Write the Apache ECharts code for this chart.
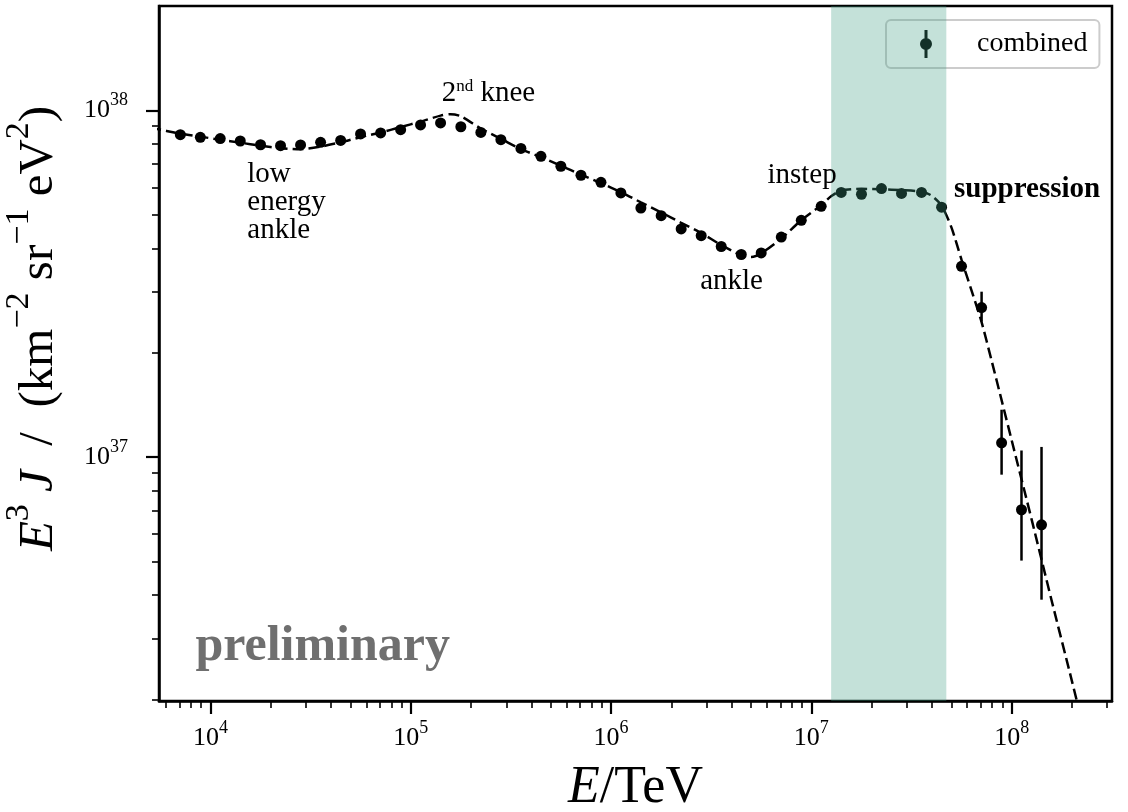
<!DOCTYPE html>
<html>
<head>
<meta charset="utf-8">
<title>combined spectrum</title>
<script src="https://cdn.jsdelivr.net/npm/echarts@6/dist/echarts.min.js"></script>
<style>
  html, body { margin: 0; padding: 0; background: #fff; }
  #chart { width: 1128px; height: 812px; }
</style>
</head>
<body>
<div id="chart"></div>
<script>
// energies of the combined data points (TeV)
var COMB_E = [7.08e3, 8.91e3, 1.12e4, 1.41e4, 1.78e4, 2.24e4, 2.82e4, 3.55e4, 4.47e4, 5.62e4,
              7.08e4, 8.91e4, 1.12e5, 1.41e5, 1.78e5, 2.24e5, 2.82e5, 3.55e5, 4.47e5, 5.62e5,
              7.08e5, 8.91e5, 1.12e6, 1.41e6, 1.78e6, 2.24e6, 2.82e6, 3.55e6, 4.47e6, 5.62e6,
              7.08e6, 8.91e6, 1.12e7, 1.41e7, 1.78e7, 2.24e7, 2.82e7, 3.55e7, 4.47e7, 5.62e7,
              7.08e7, 8.91e7, 1.12e8, 1.41e8];
// E^3 J (km^-2 sr^-1 eV^2)
var COMB_J = [8.51e37, 8.36e37, 8.29e37, 8.16e37, 7.96e37, 7.91e37, 7.95e37, 8.09e37, 8.19e37, 8.55e37,
              8.61e37, 8.80e37, 9.08e37, 9.20e37, 8.97e37, 8.64e37, 8.23e37, 7.77e37, 7.37e37, 6.90e37,
              6.50e37, 6.20e37, 5.78e37, 5.23e37, 4.97e37, 4.55e37, 4.35e37, 4.05e37, 3.84e37, 3.88e37,
              4.31e37, 4.82e37, 5.29e37, 5.80e37, 5.73e37, 5.95e37, 5.76e37, 5.80e37, 5.26e37, 3.55e37,
              2.70e37, 1.10e37, 7.05e36, 6.38e36];
// visible error bars
var ERR_E  = [5.62e7, 7.08e7, 8.91e7, 1.12e8, 1.41e8];
var ERR_LO = [3.45e37, 2.46e37, 8.9e36, 5.03e36, 3.88e36];
var ERR_HI = [3.66e37, 3.00e37, 1.37e37, 1.045e37, 1.07e37];

// dashed model curve
var MODEL_E = [5.01e3, 7.08e3, 8.91e3, 1.12e4, 1.41e4, 1.78e4, 2.24e4, 2.82e4, 3.55e4, 4.47e4,
               5.62e4, 7.08e4, 8.91e4, 1.12e5, 1.41e5, 1.58e5, 1.78e5, 2.24e5, 2.82e5, 3.55e5,
               4.47e5, 5.62e5, 7.08e5, 8.91e5, 1.12e6, 1.41e6, 1.78e6, 2.24e6, 2.82e6, 3.55e6,
               4.47e6, 5.01e6, 5.62e6, 7.08e6, 8.91e6, 1.12e7, 1.26e7, 1.41e7, 1.78e7, 2.24e7,
               2.82e7, 3.55e7, 3.98e7, 4.47e7, 5.01e7, 5.62e7, 6.31e7, 7.08e7, 7.94e7, 8.91e7,
               1.00e8, 1.26e8, 1.58e8, 2.00e8, 2.24e8];
var MODEL_J = [8.92e37, 8.57e37, 8.40e37, 8.23e37, 8.07e37, 7.91e37, 7.78e37, 7.73e37, 7.86e37, 8.09e37,
               8.37e37, 8.63e37, 8.95e37, 9.28e37, 9.66e37, 9.75e37, 9.62e37, 8.86e37, 8.28e37, 7.73e37,
               7.33e37, 6.92e37, 6.53e37, 6.17e37, 5.81e37, 5.43e37, 5.08e37, 4.74e37, 4.43e37, 4.09e37,
               3.82e37, 3.78e37, 3.87e37, 4.27e37, 4.82e37, 5.33e37, 5.66e37, 5.87e37, 5.94e37, 5.92e37,
               5.89e37, 5.83e37, 5.68e37, 5.31e37, 4.59e37, 3.71e37, 3.02e37, 2.45e37, 1.90e37, 1.46e37,
               1.12e37, 6.59e36, 3.88e36, 2.26e36, 1.73e36];

// shaded energy range
var BAND = [1.256e7, 4.72e7];

// text notes (anchor = left / middle of the text)
var NOTE_TEXT = ['low\nenergy\nankle', '2{s|nd} knee', 'instep', 'ankle', 'suppression', 'preliminary'];
var NOTE_E = [1.52e4, 1.42e5, 6.00e6, 2.77e6, 5.13e7, 8.37e3];
var NOTE_J = [5.43e37, 1.117e38, 6.51e37, 3.22e37, 5.90e37, 2.84e36];

// axes
var X_MIN = 5.54e3, X_MAX = 3.17e8;
var Y_MIN = 1.98e36, Y_MAX = 2.0e38;
var X_MAJOR = [1e4, 1e5, 1e6, 1e7, 1e8];
var Y_MAJOR = [1e37, 1e38];

function minorTicks(lo, hi) {
  var out = [];
  for (var p = Math.floor(Math.log10(lo)); p <= Math.ceil(Math.log10(hi)); p++) {
    for (var m = 2; m <= 9; m++) {
      var v = m * Math.pow(10, p);
      if (v >= lo && v <= hi) out.push(v);
    }
  }
  return out;
}
var X_MINOR = minorTicks(X_MIN, X_MAX);
var Y_MINOR = minorTicks(Y_MIN, Y_MAX);

var SERIF = '"Liberation Serif", "DejaVu Serif", serif';

function powLabel(v) {
  return '{b|10}{s|' + Math.round(Math.log10(v)) + '}';
}
var tickRich = {
  b: { fontFamily: SERIF, fontSize: 26, lineHeight: 26, verticalAlign: 'middle', color: '#000' },
  s: { fontFamily: SERIF, fontSize: 18, lineHeight: 18, verticalAlign: 'bottom', padding: [0, 0, 14, 0], color: '#000' }
};
var titleRich = {
  i: { fontFamily: SERIF, fontStyle: 'italic', fontSize: 49, lineHeight: 49, verticalAlign: 'middle', color: '#000' },
  r: { fontFamily: SERIF, fontSize: 49, lineHeight: 49, verticalAlign: 'middle', color: '#000' },
  s: { fontFamily: SERIF, fontSize: 34, lineHeight: 34, verticalAlign: 'bottom', padding: [0, 0, 28, 0], color: '#000' }
};

var chart = echarts.init(document.getElementById('chart'));

var noteStyle = [
  { fontSize: 29, lineHeight: 28, color: '#000' },
  { fontSize: 29, color: '#000' },
  { fontSize: 29, color: '#000' },
  { fontSize: 29, color: '#000' },
  { fontSize: 29, fontWeight: 'bold', color: '#000' },
  { fontSize: 50, fontWeight: 'bold', color: '#6f6f6f' }
];

var option = {
  animation: false,
  backgroundColor: '#fff',
  grid: {
    left: 159, top: 6, right: 16, bottom: 111,
    containLabel: false, outerBoundsMode: 'none',
    show: true, borderColor: '#000', borderWidth: 2.5, backgroundColor: 'transparent'
  },
  legend: {
    data: [{ name: 'combined', icon: 'path://M4.5,0H7.5V28H4.5Z M0,14a6,6 0 1,1 12,0a6,6 0 1,1 -12,0Z' }],
    left: 886, top: 20,
    itemWidth: 12, itemHeight: 28,
    padding: [10, 12, 10, 34],
    backgroundColor: 'rgba(255,255,255,0.8)',
    borderColor: '#cccccc', borderWidth: 2, borderRadius: 5,
    selectedMode: false,
    textStyle: { fontFamily: SERIF, fontSize: 28, color: '#000', padding: [0, 0, 0, 40] }
  },
  xAxis: [{
    type: 'log', logBase: 10, min: X_MIN, max: X_MAX, position: 'bottom',
    name: '{i|E}{r|/TeV}', nameLocation: 'middle', nameGap: 61,
    nameTextStyle: { rich: {
      i: { fontFamily: SERIF, fontStyle: 'italic', fontSize: 52, color: '#000' },
      r: { fontFamily: SERIF, fontSize: 52, color: '#000' } } },
    axisLine: { show: true, onZero: false, lineStyle: { color: '#000', width: 2.5 } },
    axisTick: { show: true, customValues: X_MAJOR, length: 13, lineStyle: { color: '#000', width: 2.2 } },
    axisLabel: { show: true, customValues: X_MAJOR, margin: 24, formatter: powLabel, rich: tickRich },
    splitLine: { show: false }
  }, {
    type: 'log', logBase: 10, min: X_MIN, max: X_MAX, position: 'bottom',
    axisLine: { show: false },
    axisTick: { show: true, customValues: X_MINOR, length: 7, lineStyle: { color: '#000', width: 1.6 } },
    axisLabel: { show: false },
    splitLine: { show: false }
  }],
  yAxis: [{
    type: 'log', logBase: 10, min: Y_MIN, max: Y_MAX, position: 'left',
    name: '{i|E}{s|3}{r| }{i|J}{r|  /  (km}{s|−2}{r| sr}{s|−1}{r| eV}{s|2}{r|)}',
    nameLocation: 'middle', nameGap: 95, nameRotate: 90,
    nameTextStyle: { rich: titleRich, padding: [0, 0, 0, 50] },
    axisLine: { show: true, onZero: false, lineStyle: { color: '#000', width: 2.5 } },
    axisTick: { show: true, customValues: Y_MAJOR, length: 13, lineStyle: { color: '#000', width: 2.2 } },
    axisLabel: { show: true, customValues: Y_MAJOR, margin: 31, formatter: powLabel, rich: tickRich },
    splitLine: { show: false }
  }, {
    type: 'log', logBase: 10, min: Y_MIN, max: Y_MAX, position: 'left',
    axisLine: { show: false },
    axisTick: { show: true, customValues: Y_MINOR, length: 7, lineStyle: { color: '#000', width: 1.6 } },
    axisLabel: { show: false },
    splitLine: { show: false }
  }],
  series: [{
    name: 'model', type: 'line', z: 2,
    data: MODEL_E.map(function (e, i) { return [e, MODEL_J[i]]; }),
    showSymbol: false, symbol: 'none', smooth: 0.25, clip: true,
    lineStyle: { color: '#000', width: 2.5, type: [11, 5] }
  }, {
    name: 'combined', type: 'scatter', z: 3,
    data: COMB_E.map(function (e, i) { return [e, COMB_J[i]]; }),
    symbol: 'circle', symbolSize: 11,
    itemStyle: { color: '#000', opacity: 1 }
  }, {
    name: 'errors', type: 'custom', z: 3,
    data: ERR_E.map(function (e, i) { return [e, ERR_LO[i], ERR_HI[i]]; }),
    encode: { x: 0, y: [1, 2] },
    renderItem: function (params, api) {
      var a = api.coord([api.value(0), api.value(1)]);
      var b = api.coord([api.value(0), api.value(2)]);
      return { type: 'line', shape: { x1: a[0], y1: a[1], x2: b[0], y2: b[1] },
               style: { stroke: '#000', lineWidth: 2.5 } };
    }
  }, {
    name: 'band', type: 'line', z: 5, data: [], silent: true,
    markArea: {
      silent: true, z: 5,
      itemStyle: { color: 'rgba(64,158,132,0.31)' },
      data: [[{ xAxis: BAND[0] }, { xAxis: BAND[1] }]]
    }
  }, {
    name: 'notes', type: 'scatter', z: 6, silent: true,
    symbolSize: 1, itemStyle: { color: 'rgba(0,0,0,0)', opacity: 1 },
    data: NOTE_TEXT.map(function (t, i) {
      return { value: [NOTE_E[i], NOTE_J[i]], name: t, label: noteStyle[i] };
    }),
    label: {
      show: true, position: 'right', distance: 0, formatter: '{b}',
      fontFamily: SERIF, color: '#000', align: 'left', opacity: 1,
      rich: { s: { fontFamily: SERIF, fontSize: 17, verticalAlign: 'bottom', padding: [0, 0, 14, 0], color: '#000' } }
    }
  }]
};
chart.setOption(option);
</script>
</body>
</html>
